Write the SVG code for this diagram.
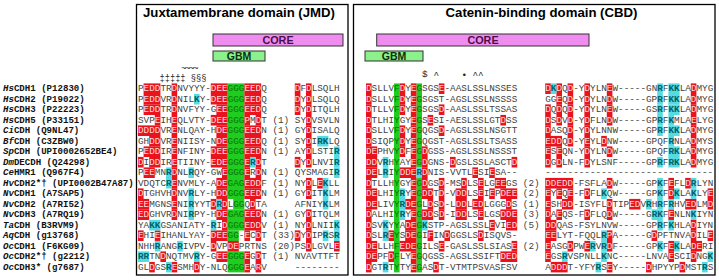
<svg xmlns="http://www.w3.org/2000/svg" width="719" height="280" viewBox="0 0 719 280">
<style>
.bg{fill:#fff}
.box{fill:none;stroke:#000;stroke-width:1.3}
.ttl{font-family:"Liberation Sans",Arial,sans-serif;font-weight:bold;font-size:13.2px;fill:#000}
.core{fill:#f08cf0;stroke:#333;stroke-width:1}
.gbm{fill:#8cf08c;stroke:#333;stroke-width:1}
.bt{font-family:"Liberation Sans",Arial,sans-serif;font-weight:bold;text-anchor:middle}
.ct{font-size:10.8px;fill:#4a0f4a}
.gt{font-size:10.5px;fill:#0a300a}
.r{fill:#e8131c}
.c{fill:#55dbe2}
.g{fill:#1fcc1f}
.seq{font-family:"Liberation Mono","Courier New",monospace;font-size:9.333px;fill:#3f3f3f}
.nm{font-family:"Liberation Mono","Courier New",monospace;font-size:9.08px;font-weight:bold;fill:#111}
.an{font-family:"Liberation Mono","Courier New",monospace;fill:#222}
.w{fill:#ffd9d9}
.t{fill:#00626a;font-weight:bold}
.k{fill:#077507}
</style>
<rect class="bg" x="0" y="0" width="719" height="280"/>

<g id="jmd-panel">
<rect class="box" x="136.5" y="4.5" width="211.5" height="270.5"/>
<text class="ttl" x="143" y="17">Juxtamembrane domain (JMD)</text>
<g id="jmd-core"><rect class="core" x="213" y="34" width="130" height="12"/><text class="bt ct" x="278" y="44">CORE</text></g>
<g id="jmd-gbm"><rect class="gbm" x="213" y="51" width="52" height="10"/><text class="bt gt" x="239" y="60">GBM</text></g>
<text class="an" x="181" y="71" font-size="9.333" letter-spacing="-1.6">~~~~</text>
<text class="an" x="159.5" y="81" font-size="8.7" xml:space="preserve">‡‡‡‡‡ §§§</text>
</g>

<g id="cbd-panel">
<rect class="box" x="353.5" y="4.5" width="361.5" height="270.5"/>
<text class="ttl" x="541.5" y="17" text-anchor="middle">Catenin-binding domain (CBD)</text>
<g id="cbd-core"><rect class="core" x="376.7" y="34" width="212.3" height="12"/><text class="bt ct" x="483" y="44">CORE</text></g>
<g id="cbd-gbm"><rect class="gbm" x="365" y="51" width="58" height="10"/><text class="bt gt" x="394" y="60">GBM</text></g>
<text class="an" x="422" y="77" font-size="9.333">$</text>
<text class="an" x="433.5" y="78" font-size="9.333">^</text>
<text class="an" x="461.5" y="78" font-size="9.333">•</text>
<text class="an" x="472.5" y="78" font-size="9.333">^^</text>
</g>

<g id="jmd-highlights" transform="translate(138 83.4) scale(5.6 10.5)">
<rect class="g" x="16" y="0" width="3" height="11.01"/>
<rect class="g" x="17" y="11" width="2" height="1.01"/>
<rect class="g" x="16" y="12" width="3" height="2.01"/>
<rect class="g" x="16" y="14" width="2" height="1.01"/>
<rect class="g" x="16" y="16" width="3" height="2"/>
<g class="r">
<rect x="1" y="0" width="3" height="1.01"/><rect x="6" y="0" width="1" height="1.01"/><rect x="13" y="0" width="3" height="1.01"/><rect x="19" y="0" width="3" height="1.01"/><rect x="28" y="0" width="1" height="1.01"/><rect x="30" y="0" width="1" height="1.01"/>
<rect x="1" y="1" width="3" height="1.01"/><rect x="6" y="1" width="1" height="1.01"/><rect x="13" y="1" width="3" height="1.01"/><rect x="19" y="1" width="3" height="1.01"/><rect x="28" y="1" width="1" height="1.01"/><rect x="30" y="1" width="1" height="1.01"/>
<rect x="1" y="2" width="3" height="1.01"/><rect x="6" y="2" width="1" height="1.01"/><rect x="14" y="2" width="2" height="1.01"/><rect x="19" y="2" width="3" height="1.01"/><rect x="28" y="2" width="1" height="1.01"/><rect x="30" y="2" width="1" height="1.01"/>
<rect x="3" y="3" width="1" height="1.01"/><rect x="6" y="3" width="1" height="1.01"/><rect x="13" y="3" width="3" height="1.01"/><rect x="19" y="3" width="1" height="1.01"/><rect x="21" y="3" width="1" height="1.01"/><rect x="30" y="3" width="1" height="1.01"/>
<rect x="0" y="4" width="4" height="1.01"/><rect x="6" y="4" width="1" height="1.01"/><rect x="14" y="4" width="2" height="1.01"/><rect x="19" y="4" width="3" height="1.01"/><rect x="30" y="4" width="1" height="1.01"/>
<rect x="2" y="5" width="2" height="1.01"/><rect x="6" y="5" width="1" height="1.01"/><rect x="14" y="5" width="2" height="1.01"/><rect x="19" y="5" width="3" height="1.01"/><rect x="30" y="5" width="1" height="1.01"/>
<rect x="1" y="6" width="3" height="1.01"/><rect x="6" y="6" width="1" height="1.01"/><rect x="13" y="6" width="3" height="1.01"/><rect x="19" y="6" width="3" height="1.01"/><rect x="30" y="6" width="1" height="1.01"/>
<rect x="0" y="7" width="1" height="1.01"/><rect x="2" y="7" width="2" height="1.01"/><rect x="6" y="7" width="1" height="1.01"/><rect x="13" y="7" width="3" height="1.01"/><rect x="19" y="7" width="1" height="1.01"/><rect x="21" y="7" width="1" height="1.01"/><rect x="28" y="7" width="1" height="1.01"/><rect x="30" y="7" width="1" height="1.01"/>
<rect x="1" y="8" width="2" height="1.01"/><rect x="6" y="8" width="1" height="1.01"/><rect x="15" y="8" width="1" height="1.01"/><rect x="19" y="8" width="1" height="1.01"/><rect x="21" y="8" width="1" height="1.01"/>
<rect x="6" y="9" width="1" height="1.01"/><rect x="14" y="9" width="2" height="1.01"/><rect x="19" y="9" width="3" height="1.01"/><rect x="30" y="9" width="1" height="1.01"/><rect x="32" y="9" width="1" height="1.01"/>
<rect x="0" y="10" width="1" height="1.01"/><rect x="6" y="10" width="1" height="1.01"/><rect x="14" y="10" width="2" height="1.01"/><rect x="19" y="10" width="3" height="1.01"/><rect x="30" y="10" width="1" height="1.01"/>
<rect x="0" y="11" width="2" height="1.01"/><rect x="6" y="11" width="1" height="1.01"/><rect x="13" y="11" width="1" height="1.01"/><rect x="15" y="11" width="1" height="1.01"/><rect x="20" y="11" width="1" height="1.01"/>
<rect x="0" y="12" width="2" height="1.01"/><rect x="6" y="12" width="1" height="1.01"/><rect x="14" y="12" width="2" height="1.01"/><rect x="19" y="12" width="3" height="1.01"/><rect x="30" y="12" width="1" height="1.01"/>
<rect x="15" y="13" width="1" height="1.01"/><rect x="19" y="13" width="3" height="1.01"/><rect x="30" y="13" width="1" height="1.01"/>
<rect x="0" y="14" width="1" height="1.01"/><rect x="3" y="14" width="1" height="1.01"/><rect x="13" y="14" width="3" height="1.01"/><rect x="19" y="14" width="1" height="1.01"/><rect x="21" y="14" width="1" height="1.01"/><rect x="28" y="14" width="1" height="1.01"/><rect x="30" y="14" width="1" height="1.01"/>
<rect x="13" y="15" width="1" height="1.01"/><rect x="16" y="15" width="2" height="1.01"/><rect x="30" y="15" width="1" height="1.01"/><rect x="35" y="15" width="1" height="1.01"/>
<rect x="4" y="16" width="1" height="1.01"/><rect x="14" y="16" width="2" height="1.01"/><rect x="19" y="16" width="1" height="1.01"/><rect x="21" y="16" width="1" height="1.01"/>
<rect x="2" y="17" width="1" height="1"/><rect x="6" y="17" width="1" height="1"/><rect x="10" y="17" width="1" height="1"/><rect x="19" y="17" width="1" height="1"/><rect x="21" y="17" width="1" height="1"/>
</g>
<g class="c">
<rect x="10" y="1" width="1" height="1.01"/>
<rect x="32" y="5" width="2" height="1.01"/>
<rect x="35" y="6" width="1" height="1.01"/>
<rect x="20" y="7" width="1" height="1.01"/><rect x="35" y="7" width="1" height="1.01"/>
<rect x="5" y="8" width="1" height="1.01"/><rect x="9" y="8" width="1" height="1.01"/><rect x="35" y="8" width="1" height="1.01"/>
<rect x="5" y="9" width="1" height="1.01"/><rect x="33" y="9" width="1" height="1.01"/>
<rect x="9" y="10" width="1" height="1.01"/><rect x="33" y="10" width="1" height="1.01"/>
<rect x="9" y="11" width="1" height="1.01"/><rect x="14" y="11" width="1" height="1.01"/><rect x="33" y="11" width="1" height="1.01"/>
<rect x="9" y="12" width="1" height="1.01"/>
<rect x="2" y="13" width="2" height="1.01"/><rect x="13" y="13" width="1" height="1.01"/><rect x="35" y="13" width="1" height="1.01"/>
<rect x="33" y="14" width="1" height="1.01"/><rect x="35" y="14" width="1" height="1.01"/>
<rect x="3" y="15" width="1" height="1.01"/><rect x="7" y="15" width="1" height="1.01"/>
<rect x="0" y="16" width="2" height="1.01"/><rect x="10" y="16" width="1" height="1.01"/>
<rect x="5" y="17" width="1" height="1"/>
</g>
</g>

<g id="cbd-highlights" transform="translate(366 83.4) scale(5.6 10.5)">
<rect class="g" x="5" y="0" width="1" height="18"/>
<rect class="g" x="9" y="0" width="1" height="8.01"/>
<rect class="g" x="9" y="9" width="1" height="9"/>
<g class="r">
<rect x="0" y="0" width="1" height="1.01"/><rect x="6" y="0" width="1" height="1.01"/><rect x="8" y="0" width="1" height="1.01"/><rect x="13" y="0" width="1" height="1.01"/><rect x="32" y="0" width="1" height="1.01"/><rect x="34" y="0" width="1" height="1.01"/><rect x="36" y="0" width="1" height="1.01"/><rect x="39" y="0" width="1" height="1.01"/><rect x="43" y="0" width="1" height="1.01"/><rect x="58" y="0" width="1" height="1.01"/>
<rect x="0" y="1" width="1" height="1.01"/><rect x="6" y="1" width="1" height="1.01"/><rect x="8" y="1" width="1" height="1.01"/><rect x="34" y="1" width="1" height="1.01"/><rect x="36" y="1" width="1" height="1.01"/><rect x="39" y="1" width="1" height="1.01"/><rect x="43" y="1" width="1" height="1.01"/><rect x="58" y="1" width="1" height="1.01"/>
<rect x="0" y="2" width="1" height="1.01"/><rect x="6" y="2" width="1" height="1.01"/><rect x="8" y="2" width="1" height="1.01"/><rect x="13" y="2" width="1" height="1.01"/><rect x="32" y="2" width="1" height="1.01"/><rect x="34" y="2" width="1" height="1.01"/><rect x="36" y="2" width="1" height="1.01"/><rect x="39" y="2" width="1" height="1.01"/><rect x="43" y="2" width="1" height="1.01"/><rect x="58" y="2" width="1" height="1.01"/>
<rect x="0" y="3" width="1" height="1.01"/><rect x="8" y="3" width="1" height="1.01"/><rect x="11" y="3" width="1" height="1.01"/><rect x="24" y="3" width="1" height="1.01"/><rect x="32" y="3" width="1" height="1.01"/><rect x="34" y="3" width="1" height="1.01"/><rect x="36" y="3" width="1" height="1.01"/><rect x="39" y="3" width="1" height="1.01"/><rect x="43" y="3" width="1" height="1.01"/><rect x="58" y="3" width="1" height="1.01"/>
<rect x="0" y="4" width="1" height="1.01"/><rect x="6" y="4" width="1" height="1.01"/><rect x="8" y="4" width="1" height="1.01"/><rect x="13" y="4" width="1" height="1.01"/><rect x="32" y="4" width="1" height="1.01"/><rect x="36" y="4" width="1" height="1.01"/><rect x="39" y="4" width="1" height="1.01"/><rect x="58" y="4" width="1" height="1.01"/>
<rect x="0" y="5" width="1" height="1.01"/><rect x="6" y="5" width="1" height="1.01"/><rect x="8" y="5" width="1" height="1.01"/><rect x="32" y="5" width="3" height="1.01"/><rect x="36" y="5" width="1" height="1.01"/><rect x="39" y="5" width="1" height="1.01"/><rect x="42" y="5" width="1" height="1.01"/><rect x="58" y="5" width="1" height="1.01"/>
<rect x="0" y="6" width="2" height="1.01"/><rect x="6" y="6" width="1" height="1.01"/><rect x="8" y="6" width="1" height="1.01"/><rect x="10" y="6" width="1" height="1.01"/><rect x="32" y="6" width="1" height="1.01"/><rect x="34" y="6" width="1" height="1.01"/><rect x="39" y="6" width="1" height="1.01"/><rect x="43" y="6" width="1" height="1.01"/><rect x="58" y="6" width="1" height="1.01"/>
<rect x="0" y="7" width="2" height="1.01"/><rect x="8" y="7" width="1" height="1.01"/><rect x="10" y="7" width="1" height="1.01"/><rect x="15" y="7" width="1" height="1.01"/><rect x="26" y="7" width="1" height="1.01"/><rect x="32" y="7" width="1" height="1.01"/><rect x="34" y="7" width="1" height="1.01"/><rect x="39" y="7" width="1" height="1.01"/><rect x="58" y="7" width="1" height="1.01"/>
<rect x="0" y="8" width="2" height="1.01"/><rect x="6" y="8" width="3" height="1.01"/><rect x="10" y="8" width="1" height="1.01"/><rect x="19" y="8" width="1" height="1.01"/><rect x="22" y="8" width="1" height="1.01"/>
<rect x="0" y="9" width="1" height="1.01"/><rect x="8" y="9" width="1" height="1.01"/><rect x="10" y="9" width="1" height="1.01"/><rect x="13" y="9" width="1" height="1.01"/><rect x="17" y="9" width="1" height="1.01"/><rect x="20" y="9" width="1" height="1.01"/><rect x="23" y="9" width="2" height="1.01"/><rect x="32" y="9" width="5" height="1.01"/><rect x="43" y="9" width="1" height="1.01"/><rect x="54" y="9" width="1" height="1.01"/><rect x="57" y="9" width="1" height="1.01"/>
<rect x="0" y="10" width="2" height="1.01"/><rect x="8" y="10" width="1" height="1.01"/><rect x="10" y="10" width="2" height="1.01"/><rect x="13" y="10" width="1" height="1.01"/><rect x="16" y="10" width="2" height="1.01"/><rect x="20" y="10" width="1" height="1.01"/><rect x="22" y="10" width="1" height="1.01"/><rect x="24" y="10" width="3" height="1.01"/><rect x="32" y="10" width="1" height="1.01"/><rect x="34" y="10" width="1" height="1.01"/><rect x="36" y="10" width="1" height="1.01"/><rect x="39" y="10" width="1" height="1.01"/><rect x="54" y="10" width="1" height="1.01"/><rect x="61" y="10" width="1" height="1.01"/>
<rect x="0" y="11" width="2" height="1.01"/><rect x="7" y="11" width="2" height="1.01"/><rect x="11" y="11" width="1" height="1.01"/><rect x="13" y="11" width="1" height="1.01"/><rect x="16" y="11" width="2" height="1.01"/><rect x="19" y="11" width="2" height="1.01"/><rect x="25" y="11" width="1" height="1.01"/><rect x="32" y="11" width="1" height="1.01"/><rect x="35" y="11" width="2" height="1.01"/><rect x="43" y="11" width="1" height="1.01"/><rect x="47" y="11" width="2" height="1.01"/><rect x="57" y="11" width="2" height="1.01"/><rect x="61" y="11" width="1" height="1.01"/>
<rect x="0" y="12" width="1" height="1.01"/><rect x="8" y="12" width="1" height="1.01"/><rect x="10" y="12" width="2" height="1.01"/><rect x="13" y="12" width="1" height="1.01"/><rect x="16" y="12" width="2" height="1.01"/><rect x="20" y="12" width="1" height="1.01"/><rect x="24" y="12" width="3" height="1.01"/><rect x="32" y="12" width="1" height="1.01"/><rect x="34" y="12" width="1" height="1.01"/><rect x="39" y="12" width="1" height="1.01"/><rect x="43" y="12" width="1" height="1.01"/><rect x="54" y="12" width="1" height="1.01"/>
<rect x="0" y="13" width="1" height="1.01"/><rect x="7" y="13" width="2" height="1.01"/><rect x="22" y="13" width="1" height="1.01"/><rect x="25" y="13" width="2" height="1.01"/><rect x="32" y="13" width="2" height="1.01"/><rect x="58" y="13" width="1" height="1.01"/>
<rect x="0" y="14" width="1" height="1.01"/><rect x="4" y="14" width="1" height="1.01"/><rect x="7" y="14" width="2" height="1.01"/><rect x="11" y="14" width="1" height="1.01"/><rect x="14" y="14" width="1" height="1.01"/><rect x="20" y="14" width="1" height="1.01"/><rect x="32" y="14" width="2" height="1.01"/><rect x="43" y="14" width="1" height="1.01"/><rect x="51" y="14" width="1" height="1.01"/><rect x="58" y="14" width="1" height="1.01"/><rect x="61" y="14" width="1" height="1.01"/>
<rect x="0" y="15" width="2" height="1.01"/><rect x="6" y="15" width="3" height="1.01"/><rect x="13" y="15" width="1" height="1.01"/><rect x="26" y="15" width="1" height="1.01"/><rect x="32" y="15" width="1" height="1.01"/><rect x="36" y="15" width="1" height="1.01"/><rect x="39" y="15" width="1" height="1.01"/><rect x="43" y="15" width="1" height="1.01"/><rect x="54" y="15" width="1" height="1.01"/><rect x="58" y="15" width="2" height="1.01"/>
<rect x="0" y="16" width="2" height="1.01"/><rect x="4" y="16" width="1" height="1.01"/><rect x="8" y="16" width="1" height="1.01"/><rect x="24" y="16" width="3" height="1.01"/><rect x="32" y="16" width="1" height="1.01"/><rect x="54" y="16" width="1" height="1.01"/><rect x="58" y="16" width="1" height="1.01"/>
<rect x="0" y="17" width="1" height="1"/><rect x="8" y="17" width="1" height="1"/><rect x="12" y="17" width="1" height="1"/><rect x="33" y="17" width="3" height="1"/><rect x="43" y="17" width="1" height="1"/><rect x="50" y="17" width="1" height="1"/><rect x="56" y="17" width="1" height="1"/>
</g>
<g class="c">
<rect x="33" y="0" width="1" height="1.01"/><rect x="52" y="0" width="1" height="1.01"/><rect x="54" y="0" width="2" height="1.01"/>
<rect x="52" y="1" width="1" height="1.01"/><rect x="54" y="1" width="2" height="1.01"/>
<rect x="52" y="2" width="1" height="1.01"/><rect x="54" y="2" width="2" height="1.01"/>
<rect x="52" y="3" width="1" height="1.01"/><rect x="54" y="3" width="1" height="1.01"/>
<rect x="52" y="4" width="1" height="1.01"/><rect x="54" y="4" width="2" height="1.01"/>
<rect x="54" y="5" width="1" height="1.01"/>
<rect x="54" y="6" width="2" height="1.01"/>
<rect x="3" y="7" width="1" height="1.01"/><rect x="52" y="7" width="1" height="1.01"/><rect x="54" y="7" width="2" height="1.01"/>
<rect x="3" y="8" width="1" height="1.01"/><rect x="9" y="8" width="1" height="1.01"/>
<rect x="52" y="9" width="1" height="1.01"/><rect x="58" y="9" width="1" height="1.01"/>
<rect x="6" y="10" width="1" height="1.01"/><rect x="42" y="10" width="1" height="1.01"/><rect x="52" y="10" width="1" height="1.01"/><rect x="55" y="10" width="1" height="1.01"/><rect x="58" y="10" width="1" height="1.01"/>
<rect x="6" y="11" width="1" height="1.01"/><rect x="50" y="11" width="1" height="1.01"/><rect x="52" y="11" width="1" height="1.01"/><rect x="54" y="11" width="1" height="1.01"/>
<rect x="6" y="12" width="1" height="1.01"/><rect x="51" y="12" width="2" height="1.01"/><rect x="58" y="12" width="1" height="1.01"/>
<rect x="3" y="13" width="1" height="1.01"/><rect x="10" y="13" width="1" height="1.01"/><rect x="52" y="13" width="1" height="1.01"/><rect x="54" y="13" width="1" height="1.01"/>
<rect x="3" y="14" width="1" height="1.01"/><rect x="42" y="14" width="1" height="1.01"/>
<rect x="40" y="15" width="1" height="1.01"/><rect x="42" y="15" width="1" height="1.01"/><rect x="52" y="15" width="1" height="1.01"/><rect x="55" y="15" width="1" height="1.01"/>
<rect x="35" y="16" width="1" height="1.01"/><rect x="42" y="16" width="1" height="1.01"/><rect x="61" y="16" width="1" height="1.01"/>
<rect x="3" y="17" width="1" height="1"/><rect x="41" y="17" width="1" height="1"/><rect x="60" y="17" width="1" height="1"/>
</g>
</g>

<g id="names" class="nm">
<text x="3" y="91"><tspan font-style="italic">Hs</tspan>CDH1 (P12830)</text>
<text x="3" y="101.5"><tspan font-style="italic">Hs</tspan>CDH2 (P19022)</text>
<text x="3" y="112"><tspan font-style="italic">Hs</tspan>CDH3 (P22223)</text>
<text x="3" y="122.5"><tspan font-style="italic">Hs</tspan>CDH5 (P33151)</text>
<text x="3" y="133"><tspan font-style="italic">Ci</tspan>CDH (Q9NL47)</text>
<text x="3" y="143.5"><tspan font-style="italic">Bf</tspan>CDH (C3ZBW0)</text>
<text x="3" y="154"><tspan font-style="italic">Sp</tspan>CDH (UPI0002652BE4)</text>
<text x="3" y="164.5"><tspan font-style="italic">Dm</tspan>DECDH (Q24298)</text>
<text x="3" y="175"><tspan font-style="italic">Ce</tspan>HMR1 (Q967F4)</text>
<text x="3" y="185.5"><tspan font-style="italic">Hv</tspan>CDH2*† (UPI0002B47A87)</text>
<text x="3" y="196"><tspan font-style="italic">Nv</tspan>CDH1 (A7SAP5)</text>
<text x="3" y="206.5"><tspan font-style="italic">Nv</tspan>CDH2 (A7RI52)</text>
<text x="3" y="217"><tspan font-style="italic">Nv</tspan>CDH3 (A7RQ19)</text>
<text x="3" y="227.5"><tspan font-style="italic">Ta</tspan>CDH (B3RVM9)</text>
<text x="3" y="238"><tspan font-style="italic">Aq</tspan>CDH (g13768)</text>
<text x="3" y="248.5"><tspan font-style="italic">Oc</tspan>CDH1 (F6KG09)</text>
<text x="3" y="259"><tspan font-style="italic">Oc</tspan>CDH2*† (g2212)</text>
<text x="3" y="269.5"><tspan font-style="italic">Oc</tspan>CDH3* (g7687)</text>
</g>

<g id="jmd-seq" class="seq">
<text x="138" y="91">P<tspan class="w">EDD</tspan>TR<tspan class="w">D</tspan>NVYYY-<tspan class="w">DEE</tspan><tspan class="k">GGG</tspan><tspan class="w">EED</tspan>Q</text>
<text x="294.8" y="91"><tspan class="w">D</tspan>F<tspan class="w">D</tspan>LSQLH</text>
<text x="138" y="101.5">P<tspan class="w">EDD</tspan>VR<tspan class="w">D</tspan>NIL<tspan class="t">K</tspan>Y-<tspan class="w">DEE</tspan><tspan class="k">GGG</tspan><tspan class="w">EED</tspan>Q</text>
<text x="294.8" y="101.5"><tspan class="w">D</tspan>Y<tspan class="w">D</tspan>LSQLQ</text>
<text x="138" y="112">P<tspan class="w">EDD</tspan>TR<tspan class="w">D</tspan>NVFYY-G<tspan class="w">EE</tspan><tspan class="k">GGG</tspan><tspan class="w">EED</tspan>Q</text>
<text x="294.8" y="112"><tspan class="w">D</tspan>Y<tspan class="w">D</tspan>ITQLH</text>
<text x="138" y="122.5">SVP<tspan class="w">E</tspan>IH<tspan class="w">E</tspan>QLVTY-<tspan class="w">DEE</tspan><tspan class="k">GGG</tspan><tspan class="w">P</tspan>M<tspan class="w">D</tspan>T</text>
<text x="272.4" y="122.5">(1)</text>
<text x="294.8" y="122.5">SY<tspan class="w">D</tspan>VSVLN</text>
<text x="138" y="133"><tspan class="w">DDDD</tspan>VR<tspan class="w">E</tspan>NLQAY-H<tspan class="w">DE</tspan><tspan class="k">GGG</tspan><tspan class="w">EED</tspan>N</text>
<text x="272.4" y="133">(1)</text>
<text x="294.8" y="133">GY<tspan class="w">D</tspan>ISALQ</text>
<text x="138" y="143.5">GH<tspan class="w">DD</tspan>VR<tspan class="w">E</tspan>NIISY-N<tspan class="w">DE</tspan><tspan class="k">GGG</tspan><tspan class="w">EED</tspan>Q</text>
<text x="272.4" y="143.5">(1)</text>
<text x="294.8" y="143.5">SY<tspan class="w">D</tspan>I<tspan class="t">RK</tspan>LQ</text>
<text x="138" y="154">P<tspan class="w">EDD</tspan>IR<tspan class="w">E</tspan>NFINY-<tspan class="w">DEE</tspan><tspan class="k">GGG</tspan><tspan class="w">EED</tspan>N</text>
<text x="272.4" y="154">(1)</text>
<text x="294.8" y="154">AY<tspan class="w">D</tspan>LSTI<tspan class="t">R</tspan></text>
<text x="138" y="164.5"><tspan class="w">D</tspan>I<tspan class="w">DD</tspan>IR<tspan class="w">E</tspan>TIINY-<tspan class="w">EDE</tspan><tspan class="k">GGG</tspan><tspan class="w">E</tspan><tspan class="t">R</tspan><tspan class="w">D</tspan>T</text>
<text x="294.8" y="164.5"><tspan class="w">D</tspan>Y<tspan class="w">D</tspan>LNVI<tspan class="t">R</tspan></text>
<text x="138" y="175">P<tspan class="w">EE</tspan>MN<tspan class="t">R</tspan><tspan class="w">D</tspan>NL<tspan class="t">R</tspan>QY-GW<tspan class="w">E</tspan><tspan class="k">GGG</tspan><tspan class="w">E</tspan>R<tspan class="w">D</tspan>N</text>
<text x="272.4" y="175">(1)</text>
<text x="294.8" y="175">QYSMAGI<tspan class="t">R</tspan></text>
<text x="138" y="185.5">VDQTC<tspan class="t">R</tspan><tspan class="w">E</tspan>NVMLY-A<tspan class="w">DE</tspan><tspan class="k">GAG</tspan><tspan class="w">EDD</tspan>F</text>
<text x="272.4" y="185.5">(1)</text>
<text x="294.8" y="185.5">NY<tspan class="w">D</tspan>L<tspan class="w">E</tspan><tspan class="t">K</tspan>LL</text>
<text x="138" y="196"><tspan class="w">D</tspan>TGHVH<tspan class="w">D</tspan>NV<tspan class="t">R</tspan>LY-H<tspan class="w">DD</tspan><tspan class="k">GGG</tspan><tspan class="w">EED</tspan>N</text>
<text x="272.4" y="196">(1)</text>
<text x="294.8" y="196">GY<tspan class="w">D</tspan>IT<tspan class="t">K</tspan>LM</text>
<text x="138" y="206.5"><tspan class="w">EE</tspan>MGNS<tspan class="w">E</tspan>NI<tspan class="t">R</tspan>YYT<tspan class="w">D</tspan><tspan class="t">R</tspan><tspan class="w">D</tspan>L<tspan class="k">GG</tspan>Q<tspan class="w">D</tspan>TA</text>
<text x="294.8" y="206.5">AFNIY<tspan class="t">K</tspan>LM</text>
<text x="138" y="217"><tspan class="w">ED</tspan>GHVR<tspan class="w">D</tspan>NI<tspan class="t">R</tspan>PY-H<tspan class="w">DE</tspan><tspan class="k">GAG</tspan><tspan class="w">EED</tspan>N</text>
<text x="272.4" y="217">(1)</text>
<text x="294.8" y="217">GY<tspan class="w">D</tspan>ITQLM</text>
<text x="138" y="227.5">YA<tspan class="t">KK</tspan>GSANIATY-<tspan class="t">R</tspan>I<tspan class="w">D</tspan><tspan class="k">GGG</tspan><tspan class="w">EDD</tspan>V</text>
<text x="272.4" y="227.5">(1)</text>
<text x="294.8" y="227.5">NY<tspan class="w">D</tspan>LNII<tspan class="t">K</tspan></text>
<text x="138" y="238"><tspan class="w">E</tspan>HI<tspan class="w">E</tspan>IHANLYAY-<tspan class="w">DEE</tspan><tspan class="k">GG</tspan>-<tspan class="w">E</tspan>C<tspan class="w">D</tspan>T</text>
<text x="272.4" y="238">(33)</text>
<text x="294.8" y="238"><tspan class="w">D</tspan>Y<tspan class="w">D</tspan>IP<tspan class="t">R</tspan>S<tspan class="t">R</tspan></text>
<text x="138" y="248.5">NHH<tspan class="t">R</tspan>ANG<tspan class="t">R</tspan>IVPV-<tspan class="w">D</tspan>VP<tspan class="w">DE</tspan>PRTNS</text>
<text x="272.4" y="248.5">(20)</text>
<text x="294.8" y="248.5">PS<tspan class="w">D</tspan>LGVL<tspan class="w">E</tspan></text>
<text x="138" y="259"><tspan class="t">RR</tspan>TN<tspan class="w">D</tspan>NQTMV<tspan class="t">R</tspan>Y-G<tspan class="w">EE</tspan><tspan class="k">GGG</tspan><tspan class="w">E</tspan>G<tspan class="w">D</tspan>T</text>
<text x="272.4" y="259">(1)</text>
<text x="294.8" y="259">NVAVTTFT</text>
<text x="138" y="269.5">GL<tspan class="w">D</tspan>GS<tspan class="t">R</tspan><tspan class="w">E</tspan>SMH<tspan class="w">D</tspan>Y-NLQ<tspan class="k">GGG</tspan><tspan class="w">E</tspan>A<tspan class="w">R</tspan>V</text>
<text x="294.8" y="269.5">--------</text>
</g>

<g id="cbd-seq" class="seq">
<text x="366" y="91"><tspan class="w">D</tspan>SLLV<tspan class="k">F</tspan><tspan class="w">D</tspan>Y<tspan class="w">E</tspan><tspan class="k">G</tspan>SGS<tspan class="w">E</tspan>-AASLSSLNSSES</text>
<text x="545.2" y="91"><tspan class="w">D</tspan><tspan class="t">K</tspan><tspan class="w">D</tspan>Q<tspan class="w">D</tspan>-Y<tspan class="w">D</tspan>YLN<tspan class="w">E</tspan>W-----GN<tspan class="t">R</tspan>F<tspan class="t">KK</tspan>LA<tspan class="w">D</tspan>MYG</text>
<text x="366" y="101.5"><tspan class="w">D</tspan>SLLV<tspan class="k">F</tspan><tspan class="w">D</tspan>Y<tspan class="w">E</tspan><tspan class="k">G</tspan>SGST-AGSLSSLNSSSS</text>
<text x="545.2" y="101.5">GG<tspan class="w">E</tspan>Q<tspan class="w">D</tspan>-Y<tspan class="w">D</tspan>YLN<tspan class="w">D</tspan>W-----GP<tspan class="t">R</tspan>F<tspan class="t">KK</tspan>LA<tspan class="w">D</tspan>MYG</text>
<text x="366" y="112"><tspan class="w">D</tspan>TLLV<tspan class="k">F</tspan><tspan class="w">D</tspan>Y<tspan class="w">E</tspan><tspan class="k">G</tspan>SGS<tspan class="w">D</tspan>-AASLSSLTSSAS</text>
<text x="545.2" y="112"><tspan class="w">D</tspan>Q<tspan class="w">D</tspan>Q<tspan class="w">D</tspan>-Y<tspan class="w">D</tspan>YLN<tspan class="w">E</tspan>W-----GS<tspan class="t">R</tspan>F<tspan class="t">KK</tspan>LA<tspan class="w">D</tspan>MYG</text>
<text x="366" y="122.5"><tspan class="w">D</tspan>TLHI<tspan class="k">Y</tspan>GY<tspan class="w">E</tspan><tspan class="k">G</tspan>S<tspan class="w">E</tspan>SI-AESLSSLGT<tspan class="w">D</tspan>SS</text>
<text x="545.2" y="122.5"><tspan class="w">D</tspan>S<tspan class="w">D</tspan>V<tspan class="w">D</tspan>-Y<tspan class="w">D</tspan>FLN<tspan class="w">D</tspan>W-----GP<tspan class="t">R</tspan>F<tspan class="t">K</tspan>MLA<tspan class="w">E</tspan>LYG</text>
<text x="366" y="133"><tspan class="w">D</tspan>SLLV<tspan class="k">F</tspan><tspan class="w">D</tspan>Y<tspan class="w">E</tspan><tspan class="k">G</tspan>QGS<tspan class="w">D</tspan>-AGSLSSLNSGTT</text>
<text x="545.2" y="133"><tspan class="w">D</tspan>ASQ<tspan class="w">D</tspan>-Y<tspan class="w">D</tspan>YLNNW-----GP<tspan class="t">R</tspan>F<tspan class="t">KK</tspan>LA<tspan class="w">D</tspan>MYG</text>
<text x="366" y="143.5"><tspan class="w">D</tspan>SIQP<tspan class="k">Y</tspan><tspan class="w">D</tspan>Y<tspan class="w">E</tspan><tspan class="k">G</tspan>QGST-AGSLSSLTSASS</text>
<text x="545.2" y="143.5"><tspan class="w">EDD</tspan>Q<tspan class="w">D</tspan>-Y<tspan class="w">E</tspan>YL<tspan class="w">D</tspan>NW-----GPQF<tspan class="t">R</tspan>NLA<tspan class="w">D</tspan>MYS</text>
<text x="366" y="154"><tspan class="w">DE</tspan>PHV<tspan class="k">Y</tspan><tspan class="w">D</tspan>F<tspan class="w">E</tspan><tspan class="k">G</tspan><tspan class="w">D</tspan>GSS-AGSLSSLNSSST</text>
<text x="545.2" y="154"><tspan class="w">E</tspan>S<tspan class="w">E</tspan>QN-Y<tspan class="w">D</tspan>YLN<tspan class="w">D</tspan>W-----GPQF<tspan class="t">RK</tspan>LA<tspan class="w">D</tspan>MYG</text>
<text x="366" y="164.5"><tspan class="w">DD</tspan>V<tspan class="t">R</tspan>H<tspan class="k">Y</tspan>AY<tspan class="w">E</tspan><tspan class="k">G</tspan><tspan class="w">D</tspan>GNS-<tspan class="w">D</tspan>GSLSSLASCT<tspan class="w">D</tspan></text>
<text x="545.2" y="164.5"><tspan class="w">D</tspan>G<tspan class="w">D</tspan>LN-F<tspan class="w">D</tspan>YLSNF-----GP<tspan class="t">R</tspan>F<tspan class="t">RK</tspan>LA<tspan class="w">D</tspan>MYG</text>
<text x="366" y="175"><tspan class="w">DE</tspan>L<tspan class="t">R</tspan>I<tspan class="k">Y</tspan><tspan class="w">DDE</tspan><tspan class="t">R</tspan><tspan class="w">D</tspan>NIS-VVTL<tspan class="w">E</tspan>SI<tspan class="w">E</tspan>SA--</text>
<text x="545.2" y="175">------------------------------</text>
<text x="366" y="185.5"><tspan class="w">D</tspan>TLLH<tspan class="k">Y</tspan>GY<tspan class="w">E</tspan><tspan class="k">G</tspan><tspan class="w">D</tspan>GS<tspan class="w">D</tspan>-MS<tspan class="w">D</tspan>LS<tspan class="w">E</tspan>LG<tspan class="w">EE</tspan>GS</text>
<text x="522.8" y="185.5">(2)</text>
<text x="545.2" y="185.5"><tspan class="w">DDEDD</tspan>-FSFLA<tspan class="w">D</tspan>W-----GP<tspan class="t">K</tspan>F<tspan class="w">E</tspan>FL<tspan class="w">D</tspan><tspan class="t">R</tspan>LYN</text>
<text x="366" y="196"><tspan class="w">DE</tspan>LHI<tspan class="k">Y</tspan><tspan class="t">R</tspan>Y<tspan class="w">E</tspan><tspan class="k">G</tspan><tspan class="w">DD</tspan>T<tspan class="w">D</tspan>-V<tspan class="w">DD</tspan>LS<tspan class="w">E</tspan>I<tspan class="w">E</tspan>P<tspan class="w">DEE</tspan></text>
<text x="522.8" y="196">(2)</text>
<text x="545.2" y="196"><tspan class="w">E</tspan>Y<tspan class="w">E</tspan>Q<tspan class="w">E</tspan>-F<tspan class="w">D</tspan>FL<tspan class="t">K</tspan>QW-----GP<tspan class="t">K</tspan>F<tspan class="w">D</tspan><tspan class="t">K</tspan>LA<tspan class="t">K</tspan>LY<tspan class="w">E</tspan></text>
<text x="366" y="206.5"><tspan class="w">DE</tspan>LIV<tspan class="k">Y</tspan><tspan class="t">R</tspan><tspan class="w">DE</tspan><tspan class="k">G</tspan>L<tspan class="w">D</tspan>S<tspan class="w">D</tspan>-L<tspan class="w">DD</tspan>L<tspan class="w">ED</tspan>LGGG<tspan class="w">D</tspan>S</text>
<text x="522.8" y="206.5">(1)</text>
<text x="545.2" y="206.5"><tspan class="w">E</tspan>SH<tspan class="w">DD</tspan>-ISYFL<tspan class="w">D</tspan>TIP<tspan class="w">ED</tspan>V<tspan class="t">R</tspan>H<tspan class="t">R</tspan>F<tspan class="t">R</tspan>HV<tspan class="w">ED</tspan>LM<tspan class="w">D</tspan></text>
<text x="366" y="217"><tspan class="w">D</tspan>ALHI<tspan class="k">Y</tspan><tspan class="t">R</tspan>Y<tspan class="w">E</tspan><tspan class="k">G</tspan><tspan class="w">DD</tspan>S<tspan class="w">D</tspan>-I<tspan class="w">DD</tspan>LS<tspan class="w">E</tspan>LGS<tspan class="w">DDE</tspan></text>
<text x="522.8" y="217">(3)</text>
<text x="545.2" y="217"><tspan class="w">D</tspan>A<tspan class="w">E</tspan>QS-F<tspan class="w">D</tspan>FLQ<tspan class="w">D</tspan>W-----G<tspan class="t">RK</tspan>F<tspan class="w">E</tspan>NLN<tspan class="t">K</tspan>IYN</text>
<text x="366" y="227.5"><tspan class="w">D</tspan>SV<tspan class="t">K</tspan>Y<tspan class="k">Y</tspan>A<tspan class="w">DE</tspan><tspan class="k">G</tspan><tspan class="t">K</tspan>STP-AGSLSSL<tspan class="w">E</tspan>VI<tspan class="w">ED</tspan></text>
<text x="522.8" y="227.5">(5)</text>
<text x="545.2" y="227.5"><tspan class="w">DD</tspan>QAS-FSYLNVW-----GP<tspan class="t">R</tspan>F<tspan class="t">K</tspan>HLA<tspan class="w">D</tspan>IYN</text>
<text x="366" y="238"><tspan class="w">D</tspan>SL<tspan class="t">R</tspan><tspan class="w">E</tspan><tspan class="k">Y</tspan>S<tspan class="w">DE</tspan><tspan class="k">G</tspan>I<tspan class="w">F</tspan>IN<tspan class="w">D</tspan>GGSLS<tspan class="w">D</tspan>ISQVS-</text>
<text x="545.2" y="238"><tspan class="w">EE</tspan>LYT-FQQL<tspan class="t">R</tspan><tspan class="w">P</tspan>A-----G<tspan class="w">D</tspan>PFTNVA<tspan class="w">D</tspan>IL<tspan class="w">E</tspan></text>
<text x="366" y="248.5"><tspan class="w">DE</tspan>LLH<tspan class="k">F</tspan><tspan class="w">EDE</tspan><tspan class="k">G</tspan>ILS<tspan class="w">E</tspan>-GASLSSLSIAS<tspan class="w">E</tspan></text>
<text x="522.8" y="248.5">(2)</text>
<text x="545.2" y="248.5"><tspan class="w">E</tspan>ASG<tspan class="w">D</tspan>PW<tspan class="w">E</tspan><tspan class="t">R</tspan>V<tspan class="t">R</tspan><tspan class="w">D</tspan>F-----GP<tspan class="t">K</tspan>F<tspan class="w">E</tspan><tspan class="t">K</tspan>LA<tspan class="w">DE</tspan>RI</text>
<text x="366" y="259"><tspan class="w">DE</tspan>PF<tspan class="w">D</tspan><tspan class="k">F</tspan>LY<tspan class="w">E</tspan><tspan class="k">G</tspan>QGSS-AGSLSSIFT<tspan class="w">DED</tspan></text>
<text x="545.2" y="259"><tspan class="w">E</tspan>GS<tspan class="t">R</tspan>VSPNLL<tspan class="t">K</tspan>NC-----LNVA<tspan class="w">E</tspan>SCI<tspan class="w">D</tspan>NG<tspan class="t">K</tspan></text>
<text x="366" y="269.5"><tspan class="w">D</tspan>GT<tspan class="t">R</tspan>T<tspan class="k">Y</tspan>TY<tspan class="w">E</tspan><tspan class="k">G</tspan>AS<tspan class="w">D</tspan>T-VTMTPSVASFSV</text>
<text x="545.2" y="269.5">A<tspan class="w">DDD</tspan>T-YFY<tspan class="t">R</tspan>S<tspan class="w">E</tspan>Y-----<tspan class="w">D</tspan>HPYYP<tspan class="w">D</tspan>MST<tspan class="t">R</tspan>S</text>
</g>
</svg>
